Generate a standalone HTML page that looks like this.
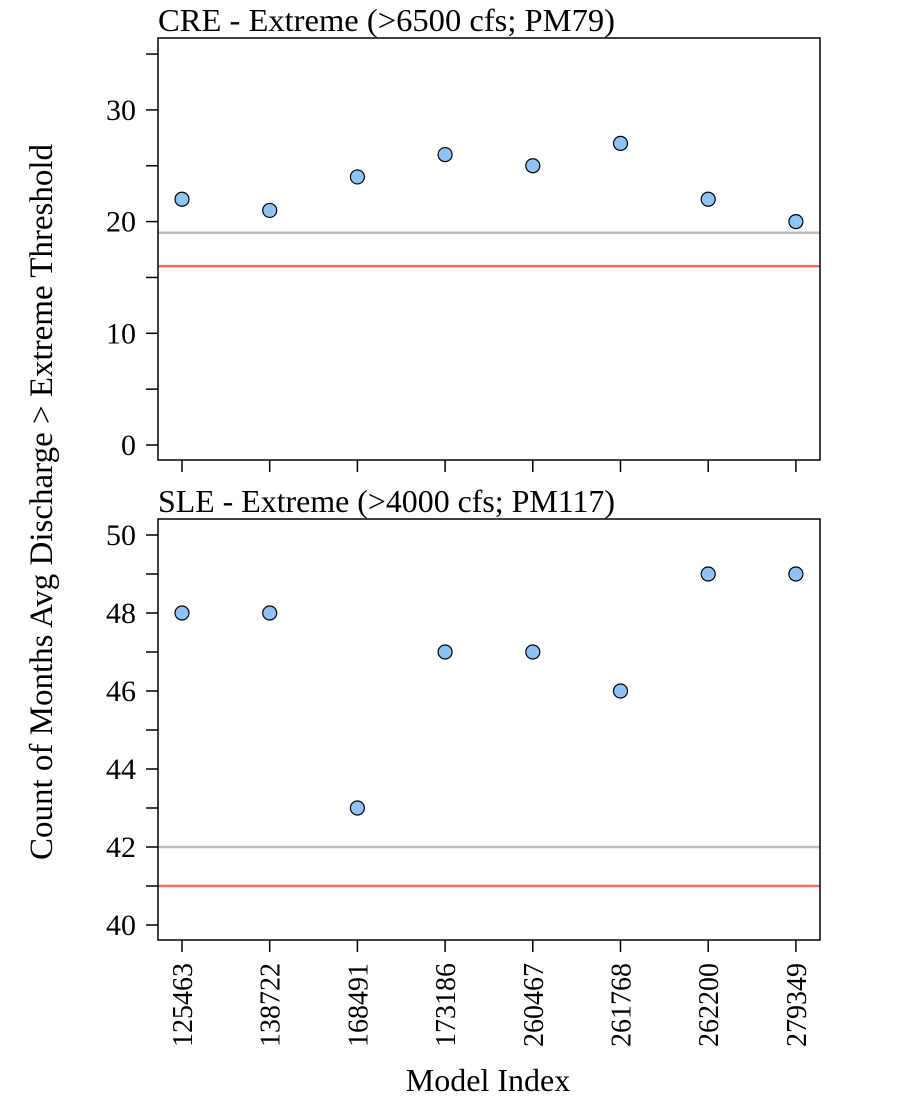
<!DOCTYPE html>
<html><head><meta charset="utf-8"><style>
body{margin:0;background:#fff}
svg text{font-family:"Liberation Serif",serif;fill:#000}
</style></head><body>
<svg id="c" width="900" height="1100"></svg>
<script>
const categories=["125463","138722","168491","173186","260467","261768","262200","279349"];
const creValues=[22,21,24,26,25,27,22,20];
const sleValues=[48,48,43,47,47,46,49,49];
const creLines=[19,16];
const sleLines=[42,41];
const creTicks=[0,10,20,30];
const sleTicks=[40,42,44,46,48,50];
const NS="http://www.w3.org/2000/svg";
const svg=document.getElementById('c');
function mk(t,a,p){const e=document.createElementNS(NS,t);for(const k in a)e.setAttribute(k,a[k]);(p||svg).appendChild(e);return e;}
const xs=i=>182+i*87.7;
function panel(name,top,bot,ymap,minorStep,minorMin,minorMax,ticks,vals,lines,title,titleY){
  const g=mk('g',{});
  
  
  const t=mk('text',{x:158,y:titleY,'font-size':32,textLength:457,lengthAdjust:'spacingAndGlyphs'},g);t.textContent=title;
  
  const colors=['#bebebe','#f07067'];
  lines.forEach((v,k)=>{const l=mk('line',{x1:158,x2:820,y1:ymap(v),y2:ymap(v),stroke:colors[k],'stroke-width':2.5},g);
    });
  const r=mk('rect',{x:158,y:top,width:662,height:bot-top,fill:'none',stroke:'#000','stroke-width':1.5},g);
  
  for(let v=minorMin;v<=minorMax+1e-9;v+=minorStep){mk('line',{x1:146,x2:158,y1:ymap(v),y2:ymap(v),stroke:'#000','stroke-width':1.5},g);}
  ticks.forEach(v=>{const tx=mk('text',{x:136,y:ymap(v)+10,'font-size':30,'text-anchor':'end'},g);tx.textContent=v;
    });
  categories.forEach((c,i)=>{mk('line',{x1:xs(i),x2:xs(i),y1:bot,y2:bot+12,stroke:'#000','stroke-width':1.5},g);});
  vals.forEach((v,i)=>{const p=mk('circle',{cx:xs(i),cy:ymap(v),r:7,fill:'#8fc3f5',stroke:'#000','stroke-width':1.2},g);
    });
}
panel('cre-panel',38,460,v=>445-v*11.17,5,0,35,creTicks,creValues,creLines,'CRE - Extreme (>6500 cfs; PM79)',31);
panel('sle-panel',519,940,v=>925-(v-40)*39,1,40,50,sleTicks,sleValues,sleLines,'SLE - Extreme (>4000 cfs; PM117)',512);
categories.forEach((c,i)=>{const t=mk('text',{x:0,y:0,'font-size':28,'text-anchor':'end',transform:`translate(${xs(i)+10},963) rotate(-90)`});t.textContent=c;
  });
const xt=mk('text',{x:488,y:1091,'font-size':32,'text-anchor':'middle'});xt.textContent='Model Index';

const yt=mk('text',{x:0,y:0,'font-size':33,'text-anchor':'middle',transform:'translate(52,502) rotate(-90)'});yt.textContent='Count of Months Avg Discharge > Extreme Threshold';

</script>
</body></html>
